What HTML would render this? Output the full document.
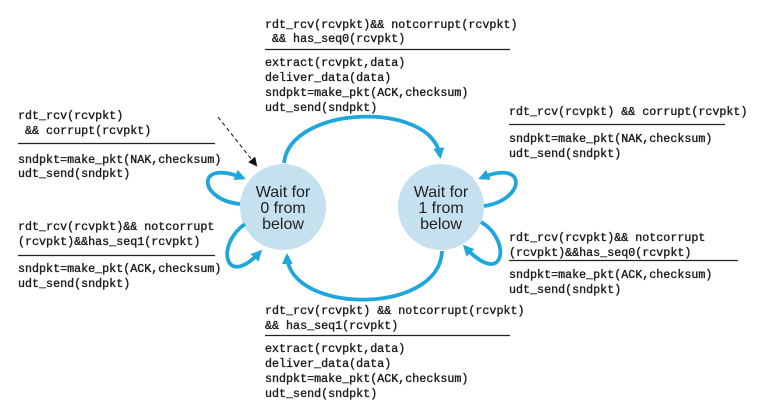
<!DOCTYPE html>
<html><head><meta charset="utf-8"><style>
html,body{margin:0;padding:0;background:#fff;}
svg{display:block}
text{font-family:"Liberation Mono",monospace;font-size:11.7px;fill:#1a1a1a;stroke:#1a1a1a;stroke-width:0.35;white-space:pre}
.c{font-family:"Liberation Sans",sans-serif;font-size:16px;fill:#222;stroke:none;text-anchor:middle}
</style></head><body>
<svg width="776" height="407" viewBox="0 0 776 407" xmlns="http://www.w3.org/2000/svg">
<defs>
<marker id="a" markerWidth="11" markerHeight="11" refX="8" refY="5.5" orient="auto" markerUnits="userSpaceOnUse">
<path d="M0,0 L11,5.5 L0,11 Z" fill="#1fa6dc"/></marker>
<marker id="k" markerWidth="9" markerHeight="9" refX="7" refY="4.5" orient="auto" markerUnits="userSpaceOnUse">
<path d="M0,0 L9,4.5 L0,9 Z" fill="#111"/></marker>
</defs>
<circle cx="283" cy="207" r="43" fill="#c5e0ef"/>
<circle cx="441" cy="207" r="43" fill="#c5e0ef"/>
<text class="c" x="283" y="197">Wait for</text>
<text class="c" x="283" y="213">0 from</text>
<text class="c" x="283" y="229">below</text>
<text class="c" x="441" y="197">Wait for</text>
<text class="c" x="441" y="213">1 from</text>
<text class="c" x="441" y="229">below</text>
<g fill="none" stroke="#1fa6dc" stroke-width="3.8">
<path d="M284,163 C290,105 432,100 440,156" marker-end="url(#a)"/>
<path d="M442,251 C440,315 290,315 287,256" marker-end="url(#a)"/>
<path d="M240,204 C198,200 195,158 243,178" marker-end="url(#a)"/>
<path d="M245,224 C215,245 225,290 260,252" marker-end="url(#a)"/>
<path d="M484,206 C526,200 528,158 481,178" marker-end="url(#a)"/>
<path d="M481,222 C512,240 505,290 465,247" marker-end="url(#a)"/>
</g>
<path d="M218,117 L256,165" stroke="#111" stroke-width="1" stroke-dasharray="4,3" fill="none" marker-end="url(#k)"/>
<g stroke="#222" stroke-width="1.2">
<line x1="265" y1="49.5" x2="510" y2="49.5"/>
<line x1="265" y1="335.5" x2="510" y2="335.5"/>
<line x1="18" y1="143.5" x2="215" y2="143.5"/>
<line x1="18" y1="255.5" x2="215" y2="255.5"/>
<line x1="509" y1="124.5" x2="725" y2="124.5"/>
<line x1="509" y1="260.5" x2="738" y2="260.5"/>
</g>
<text x="265" y="28">rdt_rcv(rcvpkt)&amp;&amp; notcorrupt(rcvpkt)</text>
<text x="265" y="42"> &amp;&amp; has_seq0(rcvpkt)</text>
<text x="265" y="66">extract(rcvpkt,data)</text>
<text x="265" y="81">deliver_data(data)</text>
<text x="265" y="96">sndpkt=make_pkt(ACK,checksum)</text>
<text x="265" y="111">udt_send(sndpkt)</text>
<text x="265" y="314">rdt_rcv(rcvpkt) &amp;&amp; notcorrupt(rcvpkt)</text>
<text x="265" y="329">&amp;&amp; has_seq1(rcvpkt)</text>
<text x="265" y="352">extract(rcvpkt,data)</text>
<text x="265" y="367">deliver_data(data)</text>
<text x="265" y="382">sndpkt=make_pkt(ACK,checksum)</text>
<text x="265" y="397">udt_send(sndpkt)</text>
<text x="18" y="119">rdt_rcv(rcvpkt)</text>
<text x="18" y="134"> &amp;&amp; corrupt(rcvpkt)</text>
<text x="18" y="163">sndpkt=make_pkt(NAK,checksum)</text>
<text x="18" y="177">udt_send(sndpkt)</text>
<text x="18" y="230">rdt_rcv(rcvpkt)&amp;&amp; notcorrupt</text>
<text x="18" y="245">(rcvpkt)&amp;&amp;has_seq1(rcvpkt)</text>
<text x="18" y="272">sndpkt=make_pkt(ACK,checksum)</text>
<text x="18" y="287">udt_send(sndpkt)</text>
<text x="509" y="115">rdt_rcv(rcvpkt) &amp;&amp; corrupt(rcvpkt)</text>
<text x="509" y="142">sndpkt=make_pkt(NAK,checksum)</text>
<text x="509" y="157">udt_send(sndpkt)</text>
<text x="509" y="241">rdt_rcv(rcvpkt)&amp;&amp; notcorrupt</text>
<text x="509" y="256">(rcvpkt)&amp;&amp;has_seq0(rcvpkt)</text>
<text x="509" y="278">sndpkt=make_pkt(ACK,checksum)</text>
<text x="509" y="293">udt_send(sndpkt)</text>
</svg>
</body></html>
